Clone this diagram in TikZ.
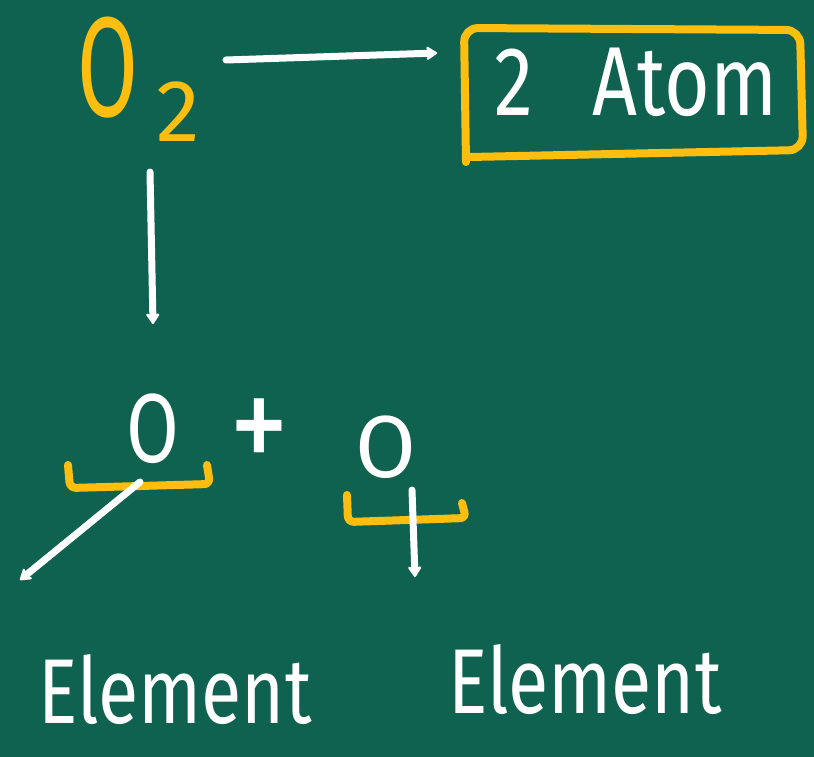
\documentclass[tikz,border=0pt]{standalone}
\usepackage{fontspec}
\setmainfont{Fira Sans}
\usetikzlibrary{arrows.meta}
\definecolor{board}{HTML}{0F6250}
\definecolor{chalky}{HTML}{FDBE10}
\tikzset{
  chalk/.style={draw=white,line width=7pt,line cap=round,line join=round},
  ychalk/.style={draw=chalky,line width=8pt,line cap=round,line join=round,rounded corners=6pt},
  arr/.style={chalk,-{Stealth[length=13pt,width=17pt,round]}},
  wtext/.style={text=white,inner sep=0pt},
  ytext/.style={text=chalky,inner sep=0pt},
}
\begin{document}
\begin{tikzpicture}[x=1pt,y=-1pt]
\fill[board] (0,0) rectangle (814,757);
\useasboundingbox (0,0) rectangle (814,757);
% O2
\node[ytext,font=\fontsize{142}{142}\selectfont] (oxy) at (108,68) {\scalebox{0.62}[1]{O}};
\node[ytext,font=\fontsize{88}{88}\selectfont] (sub) at (178,112) {2};
% box
\node[wtext,font=\fontsize{98}{98}\selectfont] (atom) at (636,82) {\scalebox{0.8}[1]{2\hspace{0.75em}Atom}};
\draw[ychalk,rounded corners=14pt] (466,162) -- (464,28) -- (800,30) -- (803,150) -- (470,157);
\coordinate (a1) at (226,60);
\coordinate (a2) at (437,53);
\draw[arr] (a1) -- (a2);
% vertical arrow
\coordinate (v1) at (150,172);
\coordinate (v2) at (153,324);
\draw[arr] (v1) -- (v2);
% O + O
\node[wtext,font=\fontsize{98}{98}\selectfont] (ol) at (153,429) {\scalebox{0.78}[1]{O}};
\node[wtext,font=\fontsize{120}{120}\selectfont] (plus) at (259,436) {\scalebox{1}[1.2]{+}};
\node[wtext,font=\fontsize{88}{88}\selectfont] (or) at (386,447) {O};
% brackets
\draw[ychalk] (68,465) -- (70,488) -- (210,484) -- (207,465);
\draw[ychalk] (347,495) -- (348,522) -- (466,518) -- (462,503);
% Elements
\node[wtext,font=\fontsize{92}{92}\selectfont] (el) at (175,690) {\scalebox{0.8}[1]{Element}};
\node[wtext,font=\fontsize{92}{92}\selectfont] (er) at (585,680) {\scalebox{0.8}[1]{Element}};
\coordinate (b1) at (140,482);
\coordinate (b2) at (20,580);
\draw[arr] (b1) -- (b2);
\coordinate (c1) at (412,490);
\coordinate (c2) at (415,577);
\draw[arr] (c1) -- (c2);
\end{tikzpicture}
\end{document}
